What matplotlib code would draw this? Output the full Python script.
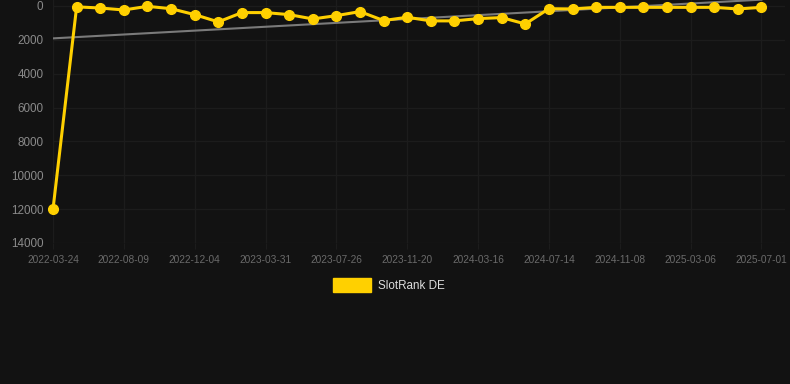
import matplotlib
matplotlib.use("Agg")
import matplotlib.pyplot as plt
import numpy as np
from matplotlib.patches import Patch

# rank per sample, one every ~40 days; only every 3rd date is labelled
ranks = [12000, 50, 120, 235, 20, 160, 510, 940, 390, 390, 510, 765, 570, 330, 860,
         665, 880, 880, 745, 685, 1060, 160, 175, 80, 80, 80, 80, 80, 80, 175, 80]
tick_labels = ["2022-03-24", "2022-08-09", "2022-12-04", "2023-03-31", "2023-07-26",
               "2023-11-20", "2024-03-16", "2024-07-14", "2024-11-08", "2025-03-06",
               "2025-07-01"]
y_ticks = [0, 2000, 4000, 6000, 8000, 10000, 12000, 14000]

BG = "#121212"
YELLOW = "#ffd000"

plt.rcParams["font.family"] = ["Liberation Sans", "DejaVu Sans"]

fig = plt.figure(figsize=(7.9, 3.84), dpi=100, facecolor=BG)
ax = fig.add_axes([0.0671, 0.3672, 0.9266, 0.6328], facecolor=BG)

x = np.arange(len(ranks))
y = np.array(ranks, dtype=float)

# linear trend over the whole series
coef = np.polyfit(x, y, 1)
ax.plot(x, np.polyval(coef, x), color="#7a7a7a", lw=1.5, zorder=2)

ax.plot(x, y, color=YELLOW, lw=2.2, marker="o", ms=7, mfc=YELLOW, mec=YELLOW,
        zorder=3, clip_on=False)

ax.set_xlim(0, 31)
ax.set_ylim(14000, -354)
ax.set_yticks(y_ticks)
ax.set_yticklabels([str(v) for v in y_ticks])
ax.set_xticks(x[::3])
ax.set_xticklabels(tick_labels)

ax.grid(True, color="#1c1c1c", lw=1)
for s in ax.spines.values():
    s.set_visible(False)
ax.tick_params(axis="y", length=0, pad=7, labelsize=8.4, labelcolor="#8a8a8a")
ax.tick_params(axis="x", length=4, color="#1c1c1c", pad=5, labelsize=7.3,
               labelcolor="#6a6a6a")

fig.legend(handles=[Patch(color=YELLOW)], labels=["SlotRank DE"], loc="center",
           bbox_to_anchor=(0.492, 0.258), frameon=False, fontsize=8.4,
           labelcolor="#dddddd", handlelength=3.3, handleheight=1.4,
           handletextpad=0.6)

fig.savefig("out.png", dpi=100, facecolor=BG)
